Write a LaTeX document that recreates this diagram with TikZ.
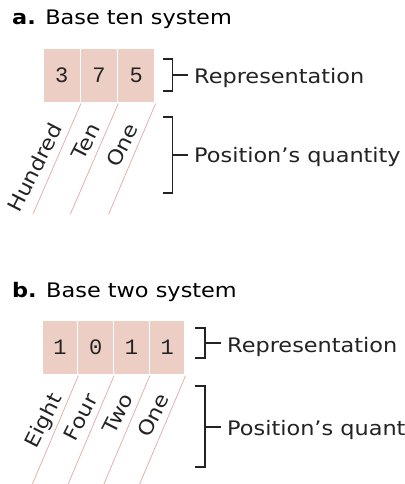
\documentclass[tikz,border=0pt]{standalone}
\usepackage{fontspec}
\setmainfont{DejaVu Sans}[FakeStretch=1.12]
\newfontfamily\digitfont{Liberation Mono}
\definecolor{cellpink}{RGB}{237,206,196}
\definecolor{linepink}{RGB}{226,170,160}
\definecolor{inkgray}{RGB}{35,35,35}
\begin{document}
\begin{tikzpicture}[x=1pt,y=-1pt,
  cell/.style={draw=white, line width=1.2pt, fill=cellpink, minimum height=55pt,
    inner sep=0pt, font=\digitfont\fontsize{22}{22}\selectfont, text=inkgray},
  acell/.style={cell, minimum width=37.33pt},
  bcell/.style={cell, minimum width=35.75pt},
  lbl/.style={anchor=base west, inner sep=0pt, font=\fontsize{20}{20}\selectfont, text=inkgray},
  ttl/.style={anchor=base west, inner sep=0pt, font=\fontsize{20}{20}\selectfont, text=black},
  rot/.style={anchor=base east, rotate=63, inner sep=0pt, font=\fontsize{20}{20}\selectfont, text=inkgray},
  brk/.style={draw=inkgray, line width=1.1pt},
  diag/.style={draw=linepink, line width=0.7pt},
  tick/.style={draw=inkgray, line width=1.1pt, shorten >=6pt}]
\useasboundingbox (0,0) rectangle (404,484);
\clip (0,0) rectangle (404,484);
\fill[white] (0,0) rectangle (404,484);

% ---------- part a ----------
\node[ttl] (ta) at (12,25) {\textbf{a.} Base ten system};
\node[acell] (a1) at (61.67,75.5) {3};
\node[acell] (a2) at (99,75.5) {7};
\node[acell] (a3) at (136.33,75.5) {5};

\coordinate (ea1) at (33,214);
\coordinate (ea2) at (70.4,214);
\coordinate (ea3) at (108.7,214);
\draw[diag] (a1.south east) -- (ea1);
\draw[diag] (a2.south east) -- (ea2);
\draw[diag] (a3.south east) -- (ea3);

\node[rot] (la1) at (63.5,128) {Hundred};
\node[rot] (la2) at (100.8,128) {Ten};
\node[rot] (la3) at (139,128) {One};

\draw[brk] (163,59) -- (172.7,59) -- (172.7,91) -- (163,91);
\coordinate (ka) at (172.7,75);
\node[lbl] (ra) at (194,84) {Representation};
\draw[tick] (ka) -- (ka -| ra.west);

\draw[brk] (163,117) -- (172.7,117) -- (172.7,193) -- (163,193);
\coordinate (kb) at (172.7,155);
\node[lbl] (pa) at (194,162) {Position's quantity};
\draw[tick] (kb) -- (kb -| pa.west);

% ---------- part b ----------
\node[ttl] (tb) at (12,297) {\textbf{b.} Base two system};
\node[bcell] (b1) at (59.88,347.5) {1};
\node[bcell] (b2) at (95.63,347.5) {0};
\node[bcell] (b3) at (131.38,347.5) {1};
\node[bcell] (b4) at (167.13,347.5) {1};

\coordinate (eb1) at (27.75,495);
\coordinate (eb2) at (63.5,495);
\coordinate (eb3) at (99.25,495);
\coordinate (eb4) at (135,495);
\draw[diag] (b1.south east) -- (eb1);
\draw[diag] (b2.south east) -- (eb2);
\draw[diag] (b3.south east) -- (eb3);
\draw[diag] (b4.south east) -- (eb4);

\node[rot] (lb1) at (62.6,398) {Eight};
\node[rot] (lb2) at (98.4,398) {Four};
\node[rot] (lb3) at (134.1,398) {Two};
\node[rot] (lb4) at (169.9,398) {One};

\draw[brk] (195,328) -- (205,328) -- (205,358) -- (195,358);
\coordinate (kc) at (205,343);
\node[lbl] (rb) at (227,352) {Representation};
\draw[tick] (kc) -- (kc -| rb.west);

\draw[brk] (195,386) -- (205,386) -- (205,467) -- (195,467);
\coordinate (kd) at (205,427);
\node[lbl] (pb) at (227,435) {Position's quantity};
\draw[tick] (kd) -- (kd -| pb.west);
\end{tikzpicture}
\end{document}
